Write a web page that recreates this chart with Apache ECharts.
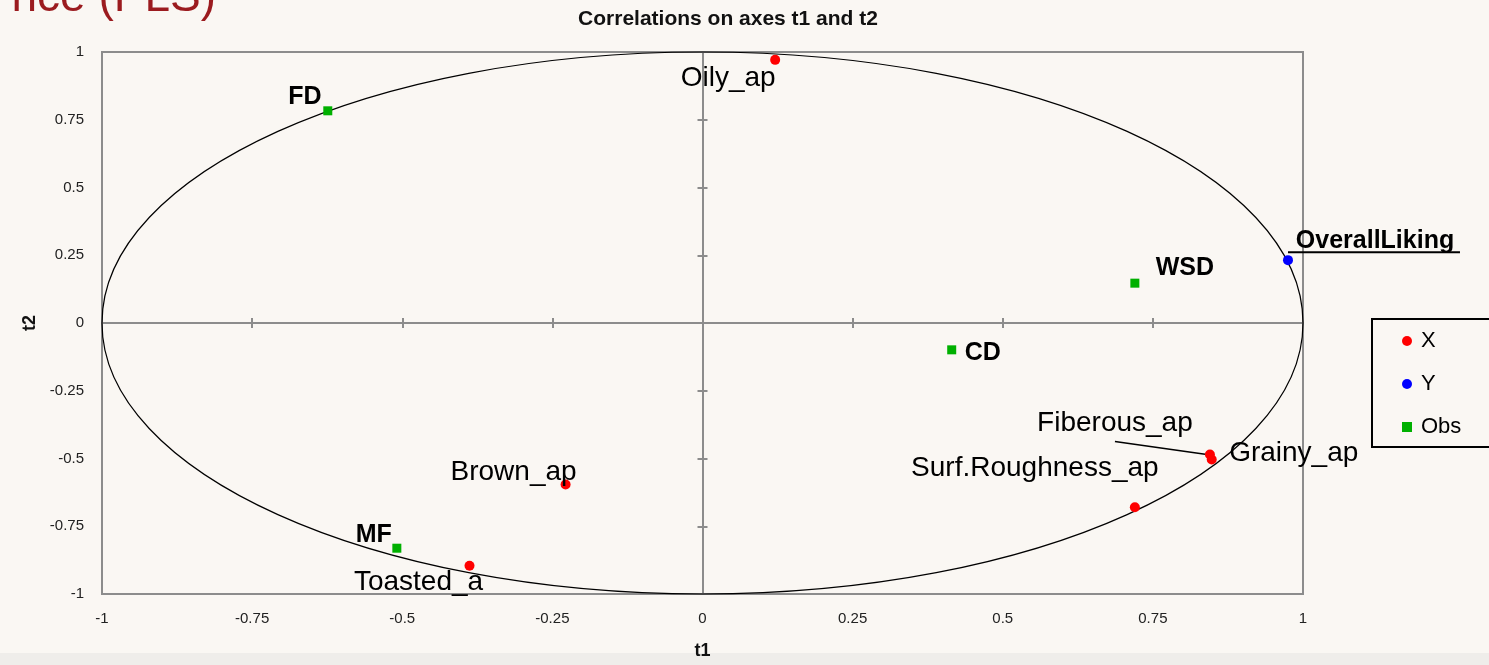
<!DOCTYPE html>
<html>
<head>
<meta charset="utf-8">
<script src="https://cdn.jsdelivr.net/npm/echarts@6/dist/echarts.min.js"></script>
<style>
  html, body { margin: 0; padding: 0; background: #FAF7F3; }
  #chart { width: 1489px; height: 665px; }
</style>
</head>
<body>
<div id="chart"></div>
<script>
// ---- data ----
const axisTicks = [-1, -0.75, -0.5, -0.25, 0, 0.25, 0.5, 0.75, 1];

const xNames = ['Oily_ap', 'Fiberous_ap', 'Grainy_ap', 'Surf.Roughness_ap', 'Brown_ap', 'Toasted_a'];
const xT1 = [0.121, 0.845, 0.848, 0.720, -0.228, -0.388];
const xT2 = [0.971, -0.485, -0.504, -0.680, -0.596, -0.896];

const yNames = ['OverallLiking'];
const yT1 = [0.975];
const yT2 = [0.232];

const obsNames = ['FD', 'WSD', 'CD', 'MF'];
const obsT1 = [-0.624, 0.720, 0.415, -0.509];
const obsT2 = [0.783, 0.147, -0.099, -0.831];

// label placement (pixel offsets from marker centre)
const labelOffset = {
  'Oily_ap': [-47, 18],
  'Fiberous_ap': [-95, -31],
  'Grainy_ap': [82, -6],
  'Surf.Roughness_ap': [-100, -39],
  'Brown_ap': [-52, -12],
  'Toasted_a': [-51, 16],
  'OverallLiking': [87, -19],
  'FD': [-23, -14],
  'WSD': [50, -15],
  'CD': [31, 3],
  'MF': [-23, -13]
};

const FONT = '"Liberation Sans", Arial, sans-serif';

function build(names, t1, t2, bold) {
  return names.map((n, i) => ({
    name: n,
    value: [t1[i], t2[i]],
    label: {
      show: true,
      position: 'inside',
      offset: labelOffset[n],
      formatter: n,
      color: '#000',
      opacity: 1,
      fontFamily: FONT,
      fontSize: bold ? 25 : 28,
      fontWeight: bold ? 'bold' : 'normal'
    }
  }));
}

const chart = echarts.init(document.getElementById('chart'), null, { renderer: 'canvas' });

const axisGray = '#8C8C8C';
const common = { type: 'value', min: -1, max: 1, interval: 0.25, splitLine: { show: false } };

const option = {
  backgroundColor: '#FAF7F3',
  animation: false,
  grid: { left: 102, top: 52, right: 186, bottom: 69, show: true, borderColor: axisGray, borderWidth: 2, backgroundColor: 'transparent' },
  xAxis: [
    Object.assign({}, common, {
      position: 'bottom',
      axisLine: { show: false, onZero: false },
      axisTick: { show: false },
      axisLabel: { margin: 17, fontSize: 15, color: '#222', fontFamily: FONT },
      name: 't1', nameLocation: 'middle', nameGap: 48,
      nameTextStyle: { fontWeight: 'bold', fontSize: 18, color: '#111', fontFamily: FONT }
    }),
    Object.assign({}, common, {
      position: 'bottom',
      axisLine: { show: true, onZero: true, onZeroAxisIndex: 0, lineStyle: { color: axisGray, width: 2 } },
      axisTick: { show: true, length: 5, lineStyle: { color: axisGray, width: 2 } },
      axisLabel: { show: false }
    }),
    Object.assign({}, common, {
      position: 'top',
      axisLine: { show: true, onZero: true, onZeroAxisIndex: 0, lineStyle: { color: axisGray, width: 2 } },
      axisTick: { show: true, length: 5, lineStyle: { color: axisGray, width: 2 } },
      axisLabel: { show: false }
    })
  ],
  yAxis: [
    Object.assign({}, common, {
      position: 'left',
      axisLine: { show: false, onZero: false },
      axisTick: { show: false },
      axisLabel: { margin: 18, fontSize: 15, color: '#222', fontFamily: FONT },
      name: 't2', nameLocation: 'middle', nameGap: 58,
      nameTextStyle: { fontWeight: 'bold', fontSize: 18, color: '#111', fontFamily: FONT }
    }),
    Object.assign({}, common, {
      position: 'left',
      axisLine: { show: true, onZero: true, onZeroAxisIndex: 0, lineStyle: { color: axisGray, width: 2 } },
      axisTick: { show: true, length: 5, lineStyle: { color: axisGray, width: 2 } },
      axisLabel: { show: false }
    }),
    Object.assign({}, common, {
      position: 'right',
      axisLine: { show: true, onZero: true, onZeroAxisIndex: 0, lineStyle: { color: axisGray, width: 2 } },
      axisTick: { show: true, length: 5, lineStyle: { color: axisGray, width: 2 } },
      axisLabel: { show: false }
    })
  ],
  legend: {
    orient: 'vertical',
    left: 1372, top: 319,
    padding: [10, 31, 8, 30],
    borderColor: '#000', borderWidth: 2,
    itemWidth: 10, itemHeight: 10, itemGap: 19,
    textStyle: { fontSize: 22, lineHeight: 24, color: '#000', fontFamily: FONT, padding: [0, 0, 0, 4] },
    data: [
      { name: 'X', icon: 'circle' },
      { name: 'Y', icon: 'circle' },
      { name: 'Obs', icon: 'rect' }
    ]
  },
  series: [
    { name: 'X', type: 'scatter', symbol: 'circle', symbolSize: 10, itemStyle: { color: '#FF0000', opacity: 1 },
      data: build(xNames, xT1, xT2, false), z: 5 },
    { name: 'Y', type: 'scatter', symbol: 'circle', symbolSize: 10, itemStyle: { color: '#0000FF', opacity: 1 },
      data: build(yNames, yT1, yT2, true), z: 5 },
    { name: 'Obs', type: 'scatter', symbol: 'rect', symbolSize: 9, itemStyle: { color: '#00B000', opacity: 1 },
      data: build(obsNames, obsT1, obsT2, true), z: 5 }
  ],
  graphic: [
    { type: 'rect', id: 'bottomBand', left: 0, top: 653, shape: { width: 1489, height: 12 }, style: { fill: '#EFEDEA' }, z: -10, silent: true },
    { type: 'text', id: 'slideTitle', x: 216, y: -2, style: { text: 'nce (PLS)', font: '46px ' + FONT, fill: '#9B1B1F', align: 'right', verticalAlign: 'middle' }, z: 1 },
    { type: 'text', id: 'chartTitle', x: 728, y: 19, style: { text: 'Correlations on axes t1 and t2', font: 'bold 21px ' + FONT, fill: '#111', align: 'center', verticalAlign: 'middle' }, z: 1 }
  ]
};

chart.setOption(option);

// unit correlation circle and leader lines, positioned via the chart's own scales
const c0 = chart.convertToPixel({ xAxisIndex: 0, yAxisIndex: 0 }, [0, 0]);
const cx1 = chart.convertToPixel({ xAxisIndex: 0, yAxisIndex: 0 }, [1, 0]);
const cy1 = chart.convertToPixel({ xAxisIndex: 0, yAxisIndex: 0 }, [0, 1]);
const pOverall = chart.convertToPixel({ xAxisIndex: 0, yAxisIndex: 0 }, [yT1[0], yT2[0]]);
const iFib = xNames.indexOf('Fiberous_ap');
const pFib = chart.convertToPixel({ xAxisIndex: 0, yAxisIndex: 0 }, [xT1[iFib], xT2[iFib]]);

chart.setOption({
  graphic: [
    { type: 'ellipse', id: 'circle', shape: { cx: c0[0], cy: c0[1], rx: cx1[0] - c0[0], ry: c0[1] - cy1[1] },
      style: { fill: 'none', stroke: '#000', lineWidth: 1.2 }, z: 3, silent: true },
    { type: 'line', id: 'underline', shape: { x1: pOverall[0], y1: pOverall[1] - 8, x2: pOverall[0] + 172, y2: pOverall[1] - 8 },
      style: { stroke: '#000', lineWidth: 2 }, z: 3, silent: true },
    { type: 'line', id: 'leader', shape: { x1: pFib[0] - 95, y1: pFib[1] - 13, x2: pFib[0] - 3, y2: pFib[1] },
      style: { stroke: '#000', lineWidth: 1.5 }, z: 3, silent: true }
  ]
});
</script>
</body>
</html>
